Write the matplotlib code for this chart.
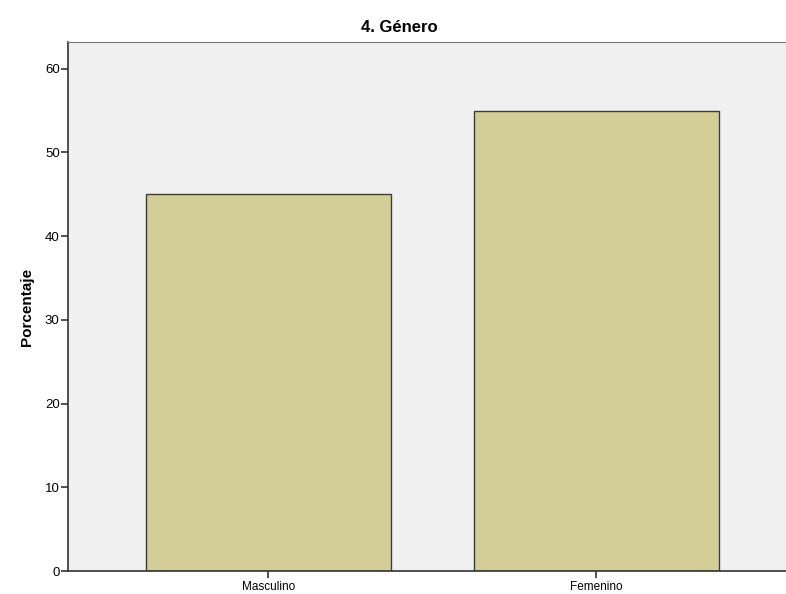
import matplotlib.pyplot as plt

plt.rcParams["font.family"] = ["Liberation Sans", "DejaVu Sans"]

categories = ["Masculino", "Femenino"]
percentages = [45.0, 55.0]
yticks = [0, 10, 20, 30, 40, 50, 60]

fig = plt.figure(figsize=(7.86, 5.94), dpi=100)
ax = fig.add_axes([68/786, 1 - 571/594, 1 - 68/786, (571 - 42)/594])
ax.set_facecolor("#F0F0F0")

x = list(range(len(categories)))
ax.bar(x, percentages, width=0.747, color="#D3CE98", edgecolor="#3C3C3C", linewidth=1.0, zorder=2)

ax.set_xlim(-0.611, 1.578)
ax.set_ylim(0, 63.2)
ax.set_xticks(x)
ax.set_xticklabels(categories, fontsize=8.5)
ax.set_yticks(yticks)
ax.set_yticklabels([str(t) for t in yticks], fontsize=9.5)
ax.tick_params(axis="y", direction="out", length=5, width=1.2, color="#333333", pad=1)
ax.tick_params(axis="x", direction="out", length=5, width=1.2, color="#333333", pad=2)

for side in ("left", "bottom"):
    ax.spines[side].set_color("#333333")
    ax.spines[side].set_linewidth(1.2)
ax.spines["top"].set_color("#777777")
ax.spines["right"].set_visible(False)

ax.set_ylabel("Porcentaje", fontsize=11, fontweight="bold", labelpad=8)
fig.text(399/786, 1 - 27/594, "4. Género", fontsize=12, fontweight="bold", ha="center", va="center")

fig.savefig("out.png", dpi=100)
